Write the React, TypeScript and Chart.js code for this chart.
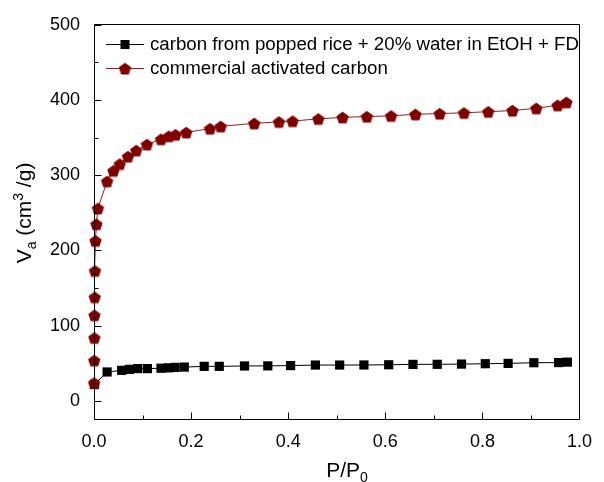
import { useEffect, useRef } from 'react';
import { Chart, registerables } from 'chart.js';

Chart.register(...registerables);

const FONT = '"Liberation Sans", Arial, Helvetica, sans-serif';

// Series labels
const riceLabel = 'carbon from popped rice + 20% water in EtOH + FD';
const commercialLabel = 'commercial activated carbon';

// Popped-rice carbon isotherm (P/P0, Va)
const ricePressure = [0.001, 0.027, 0.057, 0.073, 0.09, 0.11, 0.138, 0.153, 0.167, 0.186, 0.227, 0.258, 0.31, 0.358, 0.405, 0.456, 0.506, 0.556, 0.607, 0.657, 0.707, 0.757, 0.806, 0.853, 0.906, 0.957, 0.975];
const riceVolume = [22, 38.5, 40.7, 42, 43, 43, 43.5, 44, 44.6, 45, 46, 46, 46.5, 46.6, 47, 47.7, 47.7, 47.8, 48.1, 48.6, 48.7, 49, 49.5, 49.9, 50.8, 51, 51.6];

// Commercial activated carbon isotherm (P/P0, Va)
const commercialPressure = [0.0002, 0.0004, 0.0007, 0.001, 0.0015, 0.002, 0.003, 0.005, 0.008, 0.027, 0.04, 0.053, 0.07, 0.087, 0.109, 0.138, 0.154, 0.168, 0.19, 0.239, 0.261, 0.33, 0.381, 0.409, 0.462, 0.512, 0.562, 0.612, 0.662, 0.712, 0.762, 0.812, 0.862, 0.911, 0.955, 0.973];
const commercialVolume = [24, 54, 84, 114, 138, 173, 213, 235, 256, 292, 306, 315, 325, 333, 341, 348, 352, 354, 357, 362, 365, 369, 371, 372, 375, 377, 378, 379, 381, 382, 383, 384.5, 386, 389, 393, 397];

// Axis ticks (majors are labelled, the rest are minor marks)
const xTickValues = [0, 0.1, 0.2, 0.3, 0.4, 0.5, 0.6, 0.7, 0.8, 0.9, 1.0];
const xMajorTicks = [0, 0.2, 0.4, 0.6, 0.8, 1.0];
const yTickValues = [0, 50, 100, 150, 200, 250, 300, 350, 400, 450, 500];
const yMajorTicks = [0, 100, 200, 300, 400, 500];

const X_MIN = 0;
const X_MAX = 1;
const Y_MIN = -24;
const Y_MAX = 500;

// Plot frame inside the 604x482 canvas
const AREA = { left: 94, top: 20, right: 588, bottom: 419 };

const RICE_COLOR = '#000000';
const COMMERCIAL_LINE = '#961c1c';
const COMMERCIAL_FILL = '#800000';

function makePentagon(color: string, radius: number): HTMLCanvasElement {
  const size = Math.ceil(radius * 2 + 2);
  const c = document.createElement('canvas');
  c.width = size;
  c.height = size;
  const g = c.getContext('2d')!;
  const cx = size / 2;
  const cy = size / 2 + radius * 0.1;
  g.beginPath();
  for (let k = 0; k < 5; k++) {
    const a = -Math.PI / 2 + (k * 2 * Math.PI) / 5;
    const px = cx + radius * Math.cos(a);
    const py = cy + radius * Math.sin(a);
    if (k === 0) g.moveTo(px, py);
    else g.lineTo(px, py);
  }
  g.closePath();
  g.fillStyle = color;
  g.fill();
  return c;
}

type Part = { text: string; size: number; dy: number };

function drawRich(ctx: CanvasRenderingContext2D, parts: Part[], cx: number, baseline: number) {
  let total = 0;
  const widths = parts.map((p) => {
    ctx.font = `${p.size}px ${FONT}`;
    const w = ctx.measureText(p.text).width;
    total += w;
    return w;
  });
  let x = cx - total / 2;
  ctx.textBaseline = 'alphabetic';
  ctx.textAlign = 'left';
  parts.forEach((p, i) => {
    ctx.font = `${p.size}px ${FONT}`;
    ctx.fillText(p.text, x, baseline + p.dy);
    x += widths[i];
  });
}

function makeDecorPlugin(pentagon: HTMLCanvasElement) {
  return {
    id: 'isothermDecor',
    afterDraw(chart: any) {
      const { ctx, chartArea } = chart;
      const xs = chart.scales.x;
      const ys = chart.scales.y;
      const L = Math.floor(chartArea.left) + 0.5;
      const R = Math.floor(chartArea.right) + 0.5;
      const T = Math.floor(chartArea.top) + 0.5;
      const B = Math.floor(chartArea.bottom) + 0.5;

      ctx.save();
      ctx.strokeStyle = '#000';
      ctx.lineWidth = 1;

      // frame
      ctx.beginPath();
      ctx.moveTo(L, T);
      ctx.lineTo(R, T);
      ctx.lineTo(R, B);
      ctx.lineTo(L, B);
      ctx.closePath();
      ctx.stroke();

      // inward tick marks
      ctx.beginPath();
      xTickValues.forEach((v) => {
        const px = Math.round(xs.getPixelForValue(v)) + 0.5;
        const len = xMajorTicks.includes(v) ? 7 : 4;
        ctx.moveTo(px, B);
        ctx.lineTo(px, B - len);
      });
      yTickValues.forEach((v) => {
        const py = Math.round(ys.getPixelForValue(v)) + 0.5;
        const len = yMajorTicks.includes(v) ? 7 : 4;
        ctx.moveTo(L, py);
        ctx.lineTo(L + len, py);
      });
      ctx.stroke();

      // axis titles
      ctx.fillStyle = '#000';
      drawRich(
        ctx,
        [
          { text: 'P/P', size: 21, dy: 0 },
          { text: '0', size: 14, dy: 5 },
        ],
        347,
        477
      );
      ctx.save();
      ctx.translate(31, 213);
      ctx.rotate(-Math.PI / 2);
      drawRich(
        ctx,
        [
          { text: 'V', size: 21, dy: 0 },
          { text: 'a', size: 14, dy: 5 },
          { text: ' (cm', size: 21, dy: 0 },
          { text: '3', size: 14, dy: -8 },
          { text: ' /g)', size: 21, dy: 0 },
        ],
        0,
        0
      );
      ctx.restore();

      // legend
      const rows = [
        { label: riceLabel, line: RICE_COLOR, marker: 'square', y: 44 },
        { label: commercialLabel, line: COMMERCIAL_LINE, marker: 'pentagon', y: 68 },
      ];
      rows.forEach((r) => {
        ctx.strokeStyle = r.line;
        ctx.beginPath();
        ctx.moveTo(106, r.y + 0.5);
        ctx.lineTo(144, r.y + 0.5);
        ctx.stroke();
        if (r.marker === 'square') {
          ctx.fillStyle = RICE_COLOR;
          ctx.fillRect(125 - 4.5, r.y + 0.5 - 4.5, 9, 9);
        } else {
          ctx.drawImage(pentagon, 125 - pentagon.width / 2, r.y + 0.5 - pentagon.height / 2);
        }
        ctx.fillStyle = '#000';
        ctx.font = `18.7px ${FONT}`;
        ctx.textAlign = 'left';
        ctx.textBaseline = 'middle';
        ctx.fillText(r.label, 150, r.y + 1);
      });
      ctx.restore();
    },
  };
}

export default function App() {
  const canvasRef = useRef<HTMLCanvasElement | null>(null);

  useEffect(() => {
    const canvas = canvasRef.current;
    if (!canvas) return;
    const pentagon = makePentagon(COMMERCIAL_FILL, 6.5);
    // box sizes used by the layout; refined below so the plot frame sits on AREA
    const dims = { yWidth: AREA.left, xHeight: 482 - AREA.bottom };

    const chart = new Chart(canvas, {
      type: 'line',
      data: {
        datasets: [
          {
            label: riceLabel,
            data: ricePressure.map((x, i) => ({ x, y: riceVolume[i] })),
            borderColor: RICE_COLOR,
            backgroundColor: RICE_COLOR,
            borderWidth: 1,
            pointStyle: 'rect',
            pointRadius: 6.5,
            pointBorderWidth: 0,
            pointBackgroundColor: RICE_COLOR,
            tension: 0,
            clip: false as any,
            order: 1,
          },
          {
            label: commercialLabel,
            data: commercialPressure.map((x, i) => ({ x, y: commercialVolume[i] })),
            borderColor: COMMERCIAL_LINE,
            backgroundColor: COMMERCIAL_FILL,
            borderWidth: 1,
            pointStyle: pentagon as any,
            pointRadius: 6.5,
            pointBorderWidth: 0,
            tension: 0,
            clip: false as any,
            order: 0,
          },
        ],
      },
      options: {
        responsive: true,
        maintainAspectRatio: false,
        animation: false,
        layout: { padding: { top: AREA.top, right: 604 - AREA.right, left: 0, bottom: 0 } },
        plugins: {
          legend: { display: false },
          tooltip: { enabled: false },
        },
        scales: {
          x: {
            type: 'linear',
            min: X_MIN,
            max: X_MAX,
            grid: { display: false, drawTicks: false },
            border: { display: false },
            afterBuildTicks: (scale: any) => {
              scale.ticks = xTickValues.map((v) => ({ value: v }));
            },
            afterFit: (scale: any) => {
              scale.height = dims.xHeight;
            },
            ticks: {
              color: '#000',
              padding: 12,
              maxRotation: 0,
              autoSkip: false,
              font: { family: FONT, size: 18 },
              callback: (v: any) => (xMajorTicks.includes(Number(v)) ? Number(v).toFixed(1) : ''),
            },
          },
          y: {
            type: 'linear',
            min: Y_MIN,
            max: Y_MAX,
            grid: { display: false, drawTicks: false },
            border: { display: false },
            afterBuildTicks: (scale: any) => {
              scale.ticks = yTickValues.map((v) => ({ value: v }));
            },
            afterFit: (scale: any) => {
              scale.width = dims.yWidth;
            },
            ticks: {
              color: '#000',
              padding: 14,
              autoSkip: false,
              font: { family: FONT, size: 18 },
              callback: (v: any) => (yMajorTicks.includes(Number(v)) ? String(v) : ''),
            },
          },
        },
      },
      plugins: [makeDecorPlugin(pentagon)],
    });

    // nudge paddings until the chart area lands on the frame
    for (let i = 0; i < 4; i++) {
      const ca = chart.chartArea;
      const dl = ca.left - AREA.left;
      const dt = ca.top - AREA.top;
      const dr = ca.right - AREA.right;
      const db = ca.bottom - AREA.bottom;
      if (Math.abs(dl) < 0.5 && Math.abs(dt) < 0.5 && Math.abs(dr) < 0.5 && Math.abs(db) < 0.5) break;
      const pad = (chart.options.layout as any).padding;
      dims.yWidth -= dl;
      pad.top -= dt;
      pad.right += dr;
      dims.xHeight += db;
      chart.update();
    }

    return () => chart.destroy();
  }, []);

  return (
    <div style={{ position: 'fixed', left: 0, top: 0, width: 604, height: 482, background: '#fff' }}>
      <canvas ref={canvasRef} />
    </div>
  );
}
